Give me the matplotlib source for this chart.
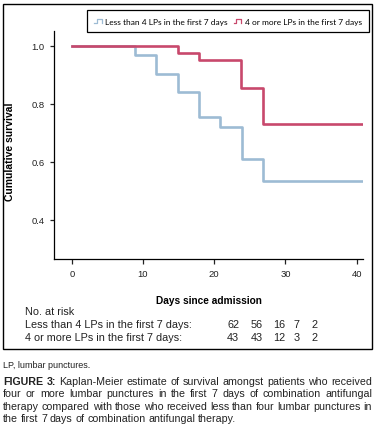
import matplotlib
matplotlib.use("Agg")
import matplotlib.pyplot as plt
from matplotlib.lines import Line2D
from matplotlib.legend_handler import HandlerBase
from matplotlib.patches import Rectangle

plt.rcParams['font.family'] = ['Liberation Sans', 'DejaVu Sans']

W, H = 380, 431
DPI = 100

# ---------------- data ----------------
series_names = ["Less than 4 LPs in the first 7 days", "4 or more LPs in the first 7 days"]
less_times = [0, 8.9, 11.8, 14.9, 17.9, 20.8, 23.9, 26.9, 40.9]
less_surv = [1.0, 0.968, 0.903, 0.839, 0.755, 0.720, 0.609, 0.534, 0.534]
more_times = [0, 14.9, 17.9, 23.8, 26.9, 40.9]
more_surv = [1.0, 0.975, 0.950, 0.852, 0.730, 0.730]
x_ticks = [0, 10, 20, 30, 40]
y_ticks = [0.4, 0.6, 0.8, 1.0]
risk_title = "No. at risk"
risk_labels = ["Less than 4 LPs in the first 7 days:", "4 or more LPs in the first 7 days:"]
risk_less = [62, 56, 16, 7, 2]
risk_more = [43, 43, 12, 3, 2]
note = "LP, lumbar punctures."
caption_lines = [
    "FIGURE 3: Kaplan-Meier estimate of survival amongst patients who received",
    "four or more lumbar punctures in the first 7 days of combination antifungal",
    "therapy compared with those who received less than four lumbar punctures in",
    "the first 7 days of combination antifungal therapy.",
]

BLUE = "#9dbbd4"
RED = "#c8486c"
TXT = "#222222"

fig = plt.figure(figsize=(W / DPI, H / DPI), dpi=DPI)


def fx(px):
    return px / W


def fy(py):
    return 1 - py / H


# outer box
fig.patches.append(Rectangle((fx(3), fy(350)), fx(372) - fx(3), fy(5) - fy(350),
                             transform=fig.transFigure, fill=False, edgecolor="black", lw=1.0))

ax = fig.add_axes([fx(54), fy(260), fx(363) - fx(54), fy(32) - fy(260)])
ax.step(less_times, less_surv, where="post", color=BLUE, lw=1.9)
ax.step(more_times, more_surv, where="post", color=RED, lw=1.9)
ax.set_xlim(-2.5, 40.9)
ax.set_ylim(0.264, 1.05)
ax.set_xticks(x_ticks)
ax.set_xticklabels([str(t) for t in x_ticks])
ax.set_yticks(y_ticks)
ax.set_yticklabels([f"{t:.1f}" for t in y_ticks])
for s in ("top", "right"):
    ax.spines[s].set_visible(False)
for s in ("left", "bottom"):
    ax.spines[s].set_linewidth(0.9)
ax.tick_params(axis="both", direction="out", labelsize=6.8, colors="#222222", width=0.9)
ax.tick_params(axis="y", length=3, pad=4)
ax.tick_params(axis="x", length=3.5, pad=4)
ax.set_ylabel("Cumulative survival", fontsize=7.5, fontweight="bold")
ax.yaxis.set_label_coords(-0.126, 0.474)
ax.set_xlabel("Days since admission", fontsize=7.3, fontweight="bold")
ax.xaxis.set_label_coords(0.5, -0.158)


class StepHandler(HandlerBase):
    def create_artists(self, legend, orig_handle, xdescent, ydescent, width, height, fontsize, trans):
        xs = [0, 0.35, 0.35, 1.0, 1.0]
        ys = [0.15, 0.15, 0.75, 0.75, 0.15]
        line = Line2D([-xdescent + x * width for x in xs],
                      [-ydescent + y * height for y in ys],
                      color=orig_handle.get_color(), lw=0.9, transform=trans)
        return [line]


h1 = Line2D([], [], color=BLUE)
h2 = Line2D([], [], color=RED)
leg = fig.legend([h1, h2], series_names, loc="center",
                 bbox_to_anchor=(fx(228), fy(22)), ncol=2,
                 prop={"family": ["Lato", "DejaVu Sans"], "size": 6.0},
                 frameon=True, fancybox=False, edgecolor="black", framealpha=1,
                 handlelength=0.9, handletextpad=0.4, columnspacing=0.7,
                 borderpad=0.85, handler_map={Line2D: StepHandler()})
leg.get_frame().set_linewidth(0.9)

fig.canvas.draw()
r = fig.canvas.get_renderer()

# number at risk table
risk_fs = 7.8
fig.text(fx(25), fy(312), risk_title, fontsize=risk_fs, color=TXT, va="center", ha="left")
risk_cols = [233, 257, 279, 297, 315]
for row_y, label, vals in ((325, risk_labels[0], risk_less), (338, risk_labels[1], risk_more)):
    fig.text(fx(25), fy(row_y), label, fontsize=risk_fs, color=TXT, va="center", ha="left")
    for cx, v in zip(risk_cols, vals):
        fig.text(fx(cx), fy(row_y), str(v), fontsize=risk_fs, color=TXT, va="center", ha="center")

# caption
fig.text(fx(3), fy(368), note, fontsize=6.5, color=TXT, va="baseline", ha="left")


def make_words(line, base_y, fs, bold_words):
    texts = []
    for i, w in enumerate(line.split(" ")):
        t = fig.text(0, fy(base_y), w, fontsize=fs, color=TXT, va="baseline", ha="left",
                     fontweight="bold" if i < bold_words else "normal")
        texts.append(t)
    return texts


X0, X1 = 3.0, 372.0
bases = [385, 397.5, 410, 422.5]

# choose the caption size so the justified lines need only modest stretching
cap_fs = 8.6
while cap_fs > 5:
    ok = True
    for i, line in enumerate(caption_lines[:-1]):
        ts = make_words(line, 0, cap_fs, 2 if i == 0 else 0)
        total = sum(t.get_window_extent(r).width for t in ts) + (len(ts) - 1) * cap_fs * 0.26 * DPI / 72
        for t in ts:
            t.remove()
        if total > X1 - X0:
            ok = False
            break
    if ok:
        break
    cap_fs -= 0.1


def place_line(line, base_y, justify, bold_words=0):
    texts = make_words(line, base_y, cap_fs, bold_words)
    widths = [t.get_window_extent(r).width for t in texts]
    if justify and len(texts) > 1:
        gap = (X1 - X0 - sum(widths)) / (len(texts) - 1)
    else:
        gap = cap_fs * 0.26 * DPI / 72
    x = X0
    for t, w in zip(texts, widths):
        t.set_x(fx(x))
        x += w + gap


for i, (line, b) in enumerate(zip(caption_lines, bases)):
    place_line(line, b, justify=(i < len(caption_lines) - 1), bold_words=2 if i == 0 else 0)

fig.savefig("out.png", dpi=DPI)
